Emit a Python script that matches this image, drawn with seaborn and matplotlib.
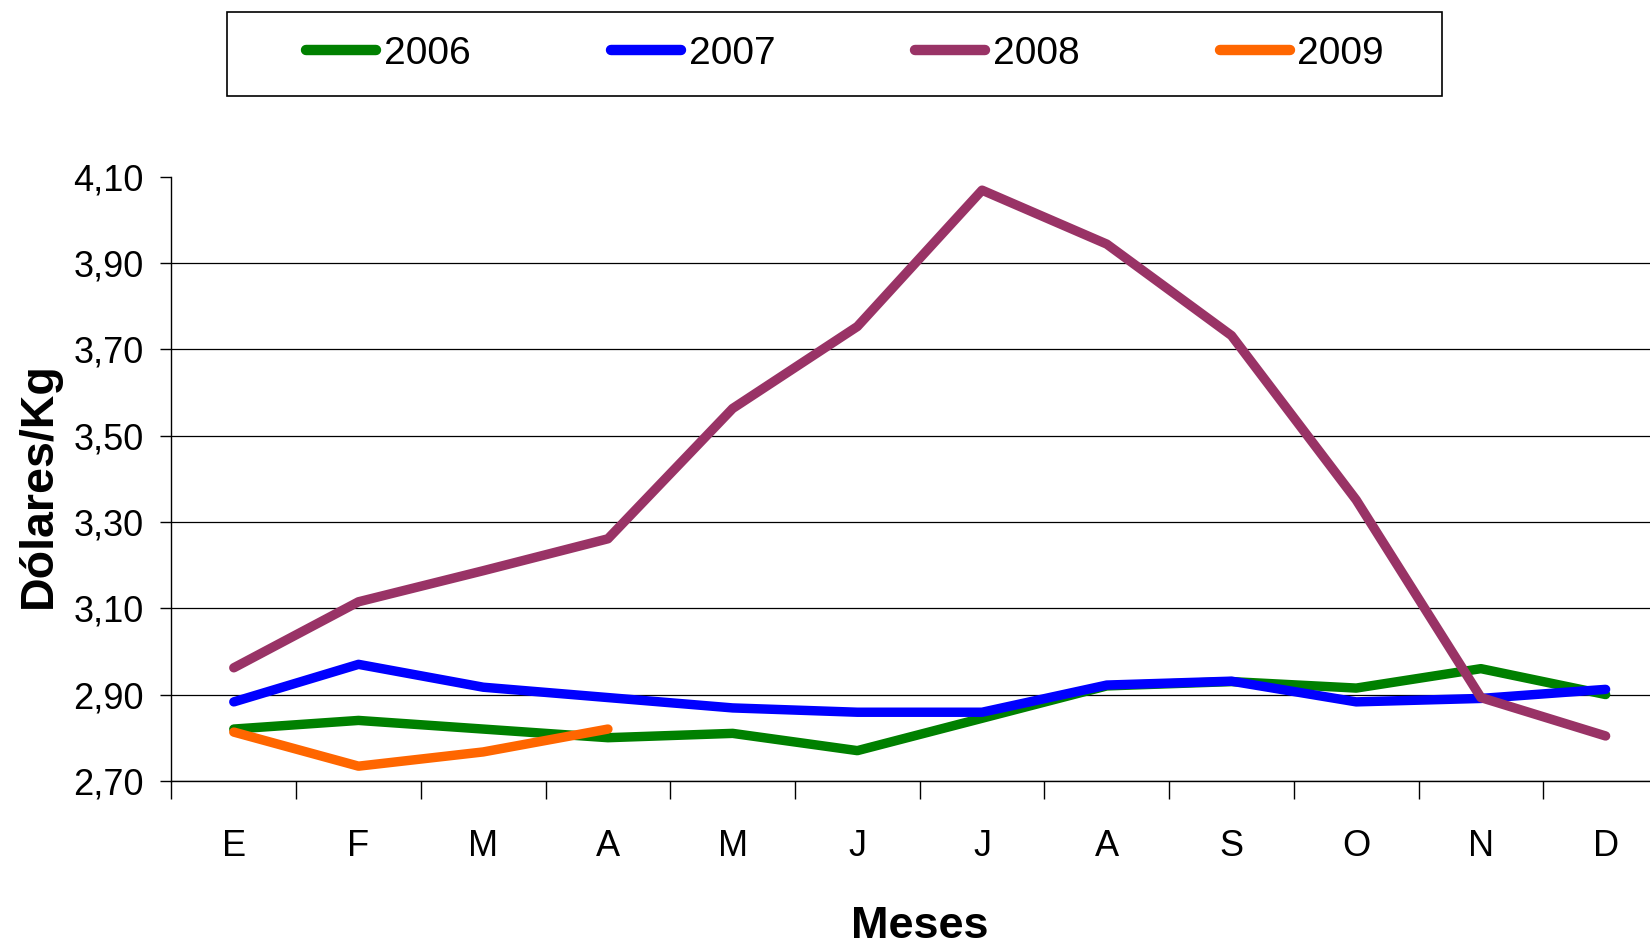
"""
Precio mensual (Dólares/Kg) 2006-2009 — line chart recreated with seaborn.
"""

import numpy as np
import pandas as pd
import matplotlib
matplotlib.use("Agg")
import matplotlib.pyplot as plt
from matplotlib.patches import Rectangle
from matplotlib.ticker import FixedLocator
import seaborn as sns

# ── Data ──────────────────────────────────────────────────────────────────────

MONTHS = ["E", "F", "M", "A", "M", "J", "J", "A", "S", "O", "N", "D"]
YEARS = ["2006", "2007", "2008", "2009"]

P2006 = [2.82, 2.84, 2.82, 2.80, 2.81, 2.77, 2.845, 2.92, 2.93, 2.915, 2.96, 2.90]
P2007 = [2.883, 2.97, 2.917, 2.893, 2.869, 2.859, 2.859, 2.922, 2.931, 2.883, 2.891, 2.912]
P2008 = [2.962, 3.115, 3.187, 3.261, 3.563, 3.753, 4.069, 3.944, 3.732, 3.351, 2.893, 2.804]
P2009 = [2.813, 2.734, 2.767, 2.82]

Y_TICKS = [2.70, 2.90, 3.10, 3.30, 3.50, 3.70, 3.90, 4.10]

# ── Style ─────────────────────────────────────────────────────────────────────

COLORS = {"2006": "#008000", "2007": "#0000FF", "2008": "#993366", "2009": "#FF6600"}
FONT = ["Liberation Sans", "DejaVu Sans"]

sns.set_style("white")
plt.rcParams["font.family"] = FONT
plt.rcParams["text.color"] = "black"
plt.rcParams["axes.labelcolor"] = "black"
plt.rcParams["xtick.color"] = "black"
plt.rcParams["ytick.color"] = "black"

# ── Long table for seaborn ────────────────────────────────────────────────────

rows = []
for year, vals in zip(YEARS, [P2006, P2007, P2008, P2009]):
    for i, v in enumerate(vals):
        rows.append({"mes": i, "anio": year, "precio": v})
df = pd.DataFrame(rows)

# ── Plot ──────────────────────────────────────────────────────────────────────

fig = plt.figure(figsize=(16.5, 9.49), dpi=100, facecolor="white")
ax = fig.add_axes([0.1039, 0.1772, 0.907, 0.6365])

sns.lineplot(
    data=df, x="mes", y="precio", hue="anio", hue_order=YEARS,
    palette=COLORS, linewidth=6.8, sort=False, ax=ax,
    solid_capstyle="round",
)
handles, labels = ax.get_legend_handles_labels()
ax.get_legend().remove()

ax.set_xlim(-0.5, 11.5)
ax.set_ylim(2.70, 4.10)

# y axis
ax.set_yticks(Y_TICKS)
ax.set_yticklabels([f"{v:.2f}".replace(".", ",") for v in Y_TICKS], fontsize=26)
ax.tick_params(axis="y", direction="out", length=8, width=1, color="black", pad=12,
               left=True)
ax.yaxis.grid(True, color="black", linewidth=0.9)
ax.get_ygridlines()[-1].set_visible(False)

# x axis: labels on categories, tick marks between them
ax.set_xticks(range(len(MONTHS)))
ax.set_xticklabels(MONTHS, fontsize=26)
ax.xaxis.set_minor_locator(FixedLocator(np.arange(-0.5, 12, 1.0)))
ax.tick_params(axis="x", which="major", length=0, pad=35)
ax.tick_params(axis="x", which="minor", direction="out", length=13, width=1,
               color="black", bottom=True)
ax.xaxis.grid(False)

for side in ["top", "right"]:
    ax.spines[side].set_visible(False)
for side in ["left", "bottom"]:
    ax.spines[side].set_color("black")
    ax.spines[side].set_linewidth(1)

ax.set_xlabel("")
ax.set_ylabel("")
fig.text(0.5576, 0.0235, "Meses", ha="center", va="center",
         fontsize=32.5, fontweight="bold")
fig.text(0.0236, 0.489, "Dólares/Kg", ha="center", va="center", rotation=90,
         fontsize=33.5, fontweight="bold")

# ── Legend in a framed box at the top ────────────────────────────────────────

leg = fig.legend(
    handles, labels, loc="center", bbox_to_anchor=(0.5122, 0.9433),
    ncol=4, frameon=False, handlelength=1.8, handletextpad=0.2,
    columnspacing=3.6, prop={"size": 28},
)
for line in leg.get_lines():
    line.set_linewidth(7.5)
    line.set_solid_capstyle("round")

fig.patches.append(Rectangle(
    (227 / 1650, 1 - 95.8 / 949), (1442 - 227) / 1650, (95.8 - 11.6) / 949,
    transform=fig.transFigure, fill=False, edgecolor="black", linewidth=1.2,
))

fig.savefig("out.png", dpi=100, facecolor="white")
